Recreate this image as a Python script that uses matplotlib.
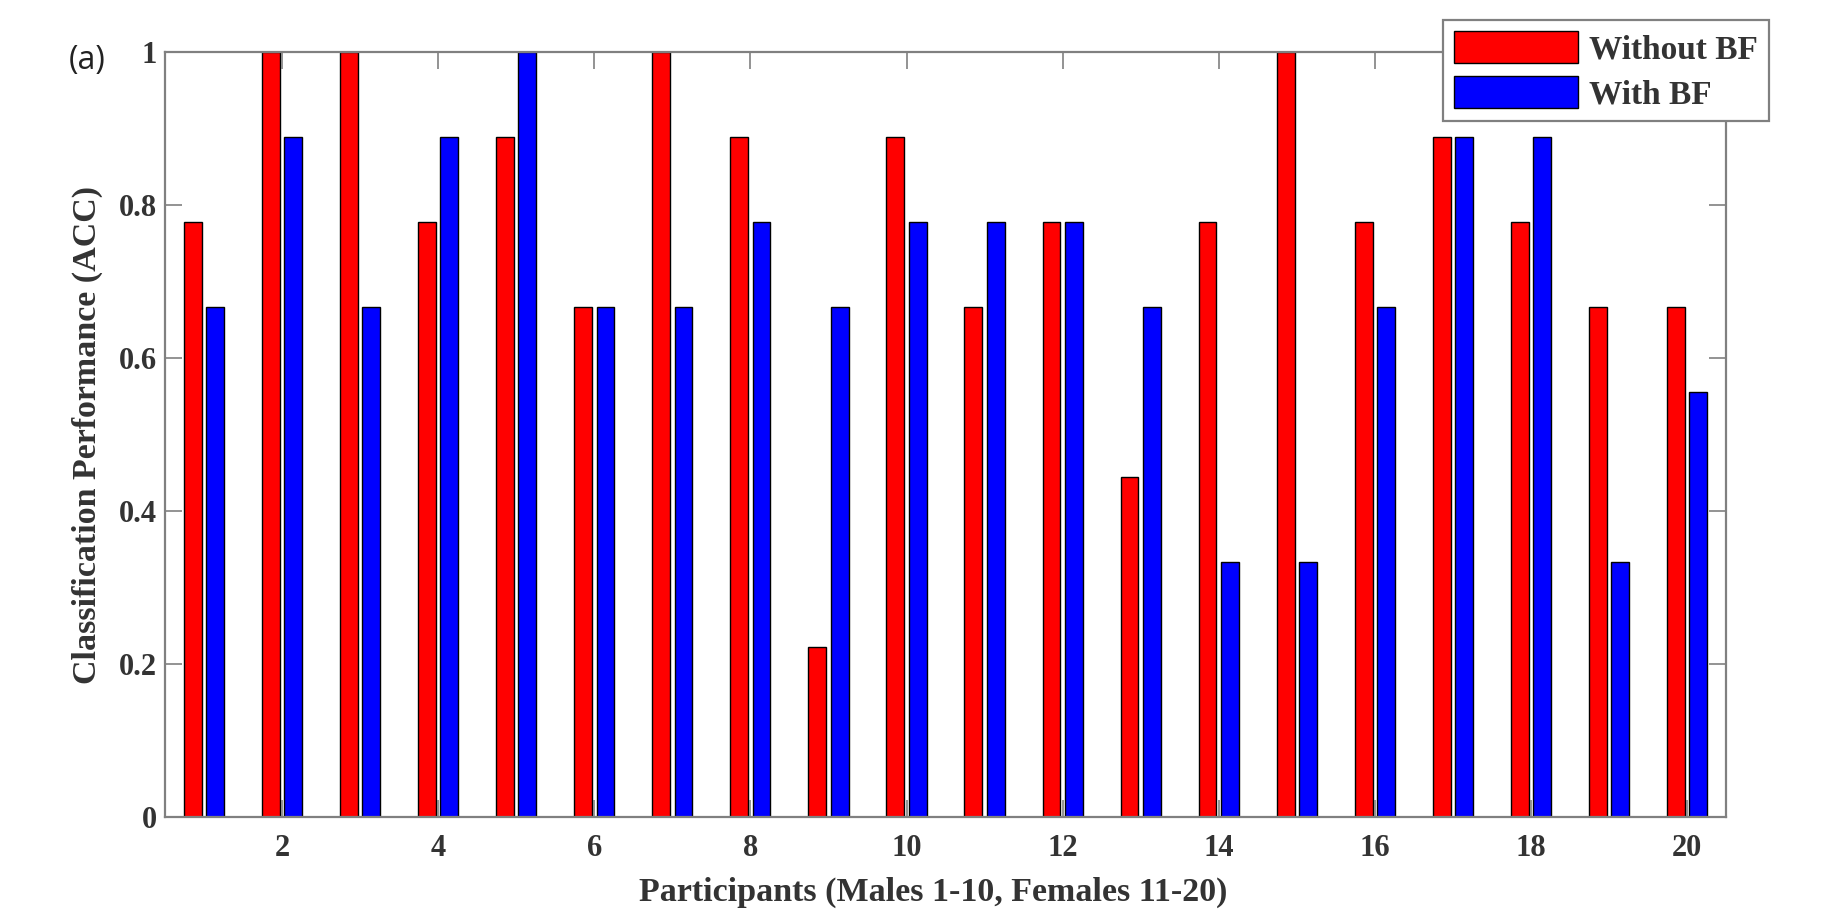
import numpy as np
import matplotlib
matplotlib.use("Agg")
import matplotlib.pyplot as plt

# Data (accuracy per participant, multiples of 1/9)
participants = np.arange(1, 21)
without_bf = [0.778, 1.0, 1.0, 0.778, 0.889, 0.667, 1.0, 0.889, 0.222, 0.889,
              0.667, 0.778, 0.444, 0.778, 1.0, 0.778, 0.889, 0.778, 0.667, 0.667]
with_bf = [0.667, 0.889, 0.667, 0.889, 1.0, 0.667, 0.667, 0.778, 0.667, 0.778,
           0.778, 0.778, 0.667, 0.333, 0.333, 0.667, 0.889, 0.889, 0.333, 0.556]
series_names = ["Without BF", "With BF"]
xticks = [2, 4, 6, 8, 10, 12, 14, 16, 18, 20]
yticks = [0, 0.2, 0.4, 0.6, 0.8, 1.0]
ytick_labels = ["0", "0.2", "0.4", "0.6", "0.8", "1"]

serif = "Liberation Serif"
txt_color = "#333333"
axis_color = "#808080"

fig = plt.figure(figsize=(18.31, 9.16), dpi=100)
ax = fig.add_axes([0.0901, 0.108, 0.8526, 0.835])

# MATLAB-style grouped bars
w = 0.2286
off = 0.1429
ax.bar(participants - off, without_bf, width=w, color="#ff0000",
       edgecolor="black", linewidth=1, label=series_names[0])
ax.bar(participants + off, with_bf, width=w, color="#0000ff",
       edgecolor="black", linewidth=1, label=series_names[1])

ax.set_xlim(0.5, 20.5)
ax.set_ylim(0, 1)
ax.set_xticks(xticks)
ax.set_yticks(yticks)
ax.set_yticklabels(ytick_labels)

for s in ax.spines.values():
    s.set_color(axis_color)
    s.set_linewidth(1.6)

ax.tick_params(direction="in", length=12, width=1.2, color=axis_color,
               top=True, right=True, labelcolor=txt_color)
ax.tick_params(axis="x", pad=12)
ax.tick_params(axis="y", pad=5.5)
for lab in ax.get_xticklabels() + ax.get_yticklabels():
    lab.set_fontfamily(serif)
    lab.set_fontweight("bold")
    lab.set_fontsize(22)

ax.set_xlabel("Participants (Males 1-10, Females 11-20)", fontfamily=serif,
              fontweight="bold", fontsize=24.5, color=txt_color, va="center")
ax.set_ylabel("Classification Performance (ACC)", fontfamily=serif,
              fontweight="bold", fontsize=24.5, color=txt_color, va="center")
ax.xaxis.set_label_coords(0.492, -0.099)
ax.yaxis.set_label_coords(-0.050, 0.5)

fig.text(87 / 1831, 1 - 60 / 916, "(a)", fontfamily="Open Sans", fontsize=23,
         color="#222222", ha="center", va="center")

leg = ax.legend(loc="upper left", bbox_to_anchor=(1443 / 1831, 1 - 20 / 916),
                bbox_transform=fig.transFigure, fancybox=False,
                prop={"family": serif, "weight": "bold", "size": 24},
                handlelength=3.72, handleheight=1.08, handletextpad=0.33,
                labelspacing=0.33, borderpad=0.33, borderaxespad=0)
leg.get_frame().set_edgecolor(axis_color)
leg.get_frame().set_linewidth(1.6)
leg.get_frame().set_alpha(1)
for t in leg.get_texts():
    t.set_color(txt_color)

fig.savefig("out.png", dpi=100)
